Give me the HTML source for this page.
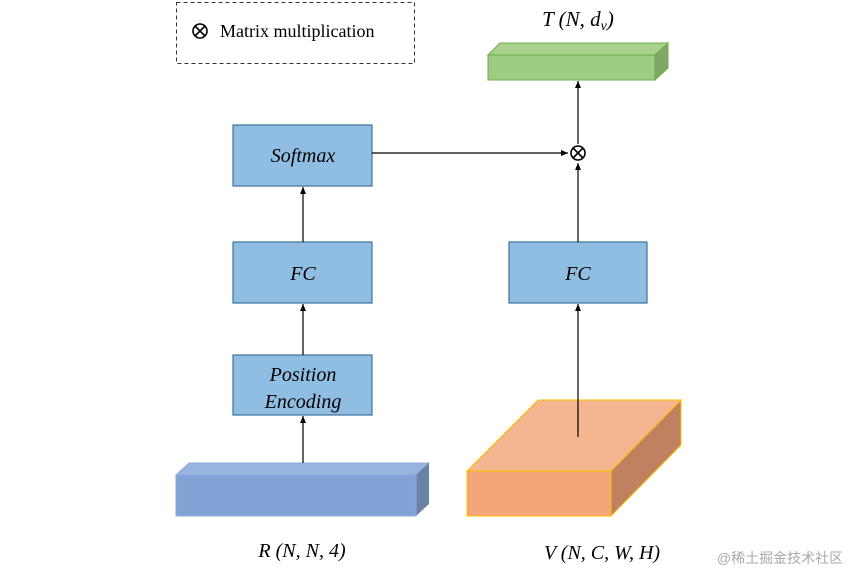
<!DOCTYPE html>
<html><head><meta charset="utf-8"><style>
body{margin:0;background:#fff;}
svg{display:block}
text{font-family:"Liberation Serif",serif;font-style:italic;}
</style></head><body>
<svg width="866" height="574" viewBox="0 0 866 574" xmlns="http://www.w3.org/2000/svg">
<defs><marker id="a" markerWidth="8" markerHeight="8" refX="7" refY="4" orient="auto" markerUnits="userSpaceOnUse"><path d="M0,1 L7,4 L0,7 z" fill="#000"/></marker></defs>
<rect x="176.5" y="2.5" width="238" height="61" fill="none" stroke="#333" stroke-dasharray="4,3"/>
<circle cx="200" cy="31" r="7" fill="none" stroke="#000" stroke-width="1.6"/>
<path d="M195,26 L205,36 M205,26 L195,36" stroke="#000" stroke-width="1.6"/>
<text x="220" y="37" font-size="18" style="font-style:normal">Matrix multiplication</text>
<text x="578" y="26" font-size="21" text-anchor="middle">T (N, d<tspan font-size="14" dy="4">v</tspan><tspan dy="-4">)</tspan></text>
<polygon points="488,55 500,43 668,43 655,55" fill="#a9d18e" stroke="#70ad47"/>
<polygon points="655,55 668,43 668,68 655,80" fill="#7fa866" stroke="#70ad47"/>
<rect x="488" y="55" width="167" height="25" fill="#9dcd82" stroke="#70ad47"/>
<g fill="#90bde2" stroke="#41719c" stroke-width="1.2">
<rect x="233" y="125" width="139" height="61"/>
<rect x="233" y="242" width="139" height="61"/>
<rect x="509" y="242" width="138" height="61"/>
<rect x="233" y="355" width="139" height="60"/>
</g>
<g font-size="20" text-anchor="middle">
<text x="303" y="162">Softmax</text>
<text x="303" y="280">FC</text>
<text x="578" y="280">FC</text>
<text x="303" y="381">Position</text>
<text x="303" y="408">Encoding</text>
</g>
<polygon points="176,475 189,463 429,463 416,475" fill="#98b3de" stroke="#8faadc"/>
<polygon points="416,475 429,463 429,504 416,516" fill="#6a82a8"/>
<rect x="176" y="475" width="240" height="41" fill="#82a1d4" stroke="#8faadc"/>
<polygon points="467,471 538,400 681,400 611,471" fill="#f4b691" stroke="#ffc000"/>
<polygon points="611,471 681,400 681,445 611,516" fill="#bf8160" stroke="#ffc000"/>
<rect x="467" y="471" width="144" height="45" fill="#f3a67a" stroke="#ffc000"/>
<g stroke="#000" stroke-width="1.2" fill="none">
<line x1="303" y1="463" x2="303" y2="416" marker-end="url(#a)"/>
<line x1="303" y1="355" x2="303" y2="304" marker-end="url(#a)"/>
<line x1="303" y1="242" x2="303" y2="187" marker-end="url(#a)"/>
<line x1="372" y1="153" x2="568" y2="153" marker-end="url(#a)"/>
<line x1="578" y1="437" x2="578" y2="304" marker-end="url(#a)"/>
<line x1="578" y1="242" x2="578" y2="163" marker-end="url(#a)"/>
<line x1="578" y1="144" x2="578" y2="81" marker-end="url(#a)"/>
</g>
<circle cx="578" cy="153" r="7" fill="#fff" stroke="#000" stroke-width="1.6"/>
<path d="M573,148 L583,158 M583,148 L573,158" stroke="#000" stroke-width="1.6"/>
<text x="302" y="557" font-size="20" text-anchor="middle">R (N, N, 4)</text>
<text x="602" y="559" font-size="20" text-anchor="middle">V (N, C, W, H)</text>
<text x="780" y="563" font-size="14" text-anchor="middle" fill="#aaa" style="font-style:normal;font-family:'Liberation Sans','Noto Sans CJK SC',sans-serif">@稀土掘金技术社区</text>
</svg>
</body></html>
